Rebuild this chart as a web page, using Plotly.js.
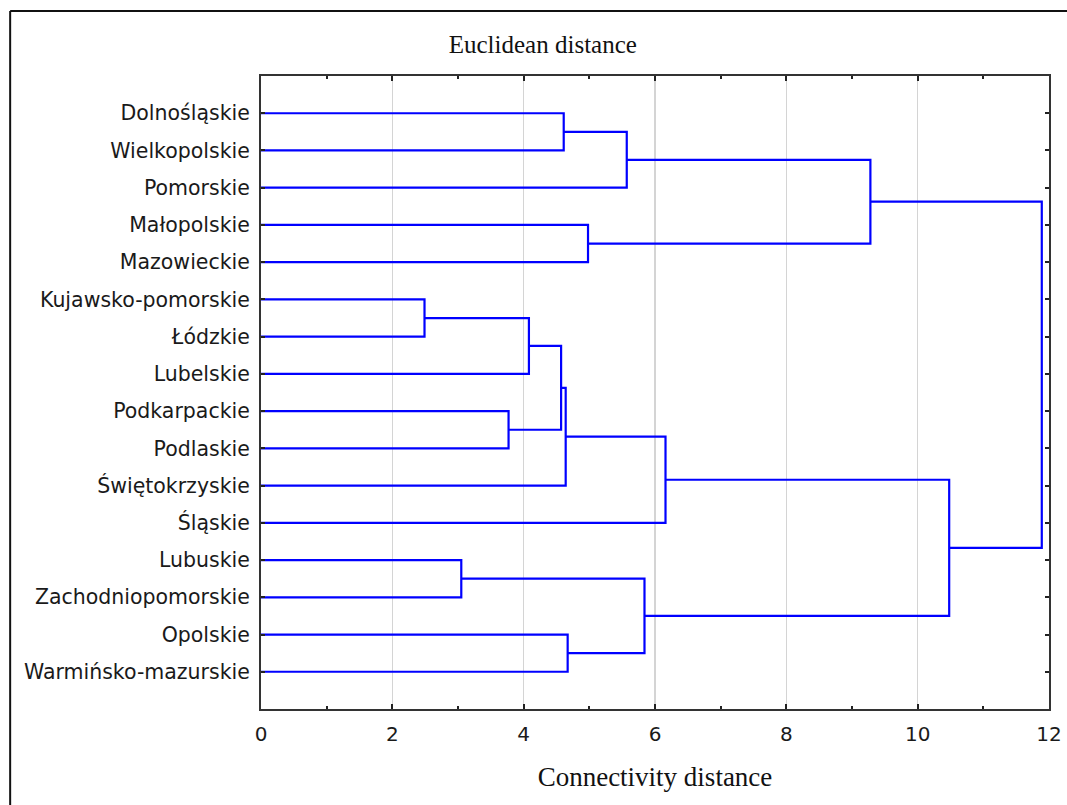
<!DOCTYPE html>
<html>
<head>
<meta charset="utf-8">
<script src="https://cdn.plot.ly/plotly-3.0.1.min.js"></script>
<style>
  html, body { margin: 0; padding: 0; background: #fff; }
  #chart { width: 1067px; height: 805px; }
</style>
</head>
<body>
<div id="chart"></div>
<script>
// Leaves in display order (top to bottom)
const leaves = [
  "Dolnośląskie", "Wielkopolskie", "Pomorskie", "Małopolskie", "Mazowieckie",
  "Kujawsko-pomorskie", "Łódzkie", "Lubelskie", "Podkarpackie", "Podlaskie",
  "Świętokrzyskie", "Śląskie", "Lubuskie", "Zachodniopomorskie", "Opolskie",
  "Warmińsko-mazurskie"
];
// Merge steps: ids 0..15 are leaves, each merge creates id 16, 17, ...
const mergeLeft  = [0, 16, 3, 17, 5, 20, 8, 21, 23, 24, 12, 14, 26, 25, 19];
const mergeRight = [1, 2, 4, 18, 6, 7, 9, 22, 10, 11, 13, 15, 27, 28, 29];
const mergeDist  = [4.61, 5.57, 4.98, 9.28, 2.49, 4.08, 3.77, 4.57, 4.64, 6.16, 3.05, 4.67, 5.84, 10.48, 11.89];

const xTickVals = [0, 2, 4, 6, 8, 10, 12];
const xTickText = ["0", "2", "4", "6", "8", "10", "12"];

// Build dendrogram link paths from the merge table
const posY = leaves.map((_, i) => i);
const posX = leaves.map(() => 0);
const lx = [], ly = [];
for (let k = 0; k < mergeDist.length; k++) {
  const a = mergeLeft[k], b = mergeRight[k], d = mergeDist[k];
  lx.push(posX[a], d, d, posX[b], null);
  ly.push(posY[a], posY[a], posY[b], posY[b], null);
  posX.push(d);
  posY.push((posY[a] + posY[b]) / 2);
}

const W = 1067, H = 805;
const M = { l: 261, r: 17.5, t: 76, b: 95.7 };
const pw = W - M.l - M.r, ph = H - M.t - M.b;
const px2x = p => (p - M.l) / pw;
const py2y = p => (H - M.b - p) / ph;

const trace = {
  type: "scatter", mode: "lines",
  x: lx, y: ly,
  line: { color: "#0000ff", width: 2.2, shape: "linear" },
  hoverinfo: "skip", showlegend: false, connectgaps: false
};

const layout = {
  width: W, height: H,
  margin: M,
  paper_bgcolor: "#ffffff", plot_bgcolor: "#ffffff",
  showlegend: false,
  title: {
    text: "Euclidean distance",
    font: { family: "Liberation Serif, Times New Roman, serif", size: 25, color: "#111" },
    xref: "paper", x: px2x(543), xanchor: "center",
    yref: "container", y: 1 - 44 / H, yanchor: "middle"
  },
  xaxis: {
    range: [0, 12],
    tickmode: "array", tickvals: xTickVals, ticktext: xTickText,
    ticks: "inside", ticklen: 5, tickwidth: 2, tickcolor: "#222",
    minor: { dtick: 1, tick0: 0, ticks: "inside", ticklen: 3, tickwidth: 2, tickcolor: "#222", showgrid: false },
    showline: true, linecolor: "#333", linewidth: 2, mirror: "allticks",
    showgrid: true, gridcolor: "#d4d4d4", gridwidth: 1.5,
    zeroline: false,
    tickfont: { family: "DejaVu Sans, sans-serif", size: 20, color: "#1a1a1a" },
    ticklabelstandoff: 6,
    title: {
      text: "Connectivity distance",
      font: { family: "Liberation Serif, Times New Roman, serif", size: 27, color: "#111" },
      standoff: 22
    },
    automargin: false, fixedrange: true
  },
  yaxis: {
    range: [16, -1],
    tickmode: "array", tickvals: posY.slice(0, leaves.length), ticktext: leaves,
    ticks: "inside", ticklen: 4, tickwidth: 2, tickcolor: "#222",
    showline: true, linecolor: "#333", linewidth: 2, mirror: "allticks",
    showgrid: false, zeroline: false,
    tickfont: { family: "DejaVu Sans, sans-serif", size: 20.5, color: "#1a1a1a" },
    ticklabelstandoff: 5,
    automargin: false, fixedrange: true
  },
  shapes: [
    { type: "line", xref: "paper", yref: "paper",
      x0: px2x(10), x1: px2x(W + 5), y0: py2y(11), y1: py2y(11),
      line: { color: "#111", width: 2 } },
    { type: "line", xref: "paper", yref: "paper",
      x0: px2x(10), x1: px2x(10), y0: py2y(11), y1: py2y(H + 5),
      line: { color: "#111", width: 2 } }
  ]
};

Plotly.newPlot("chart", [trace], layout, { staticPlot: true, displayModeBar: false });
</script>
</body>
</html>
